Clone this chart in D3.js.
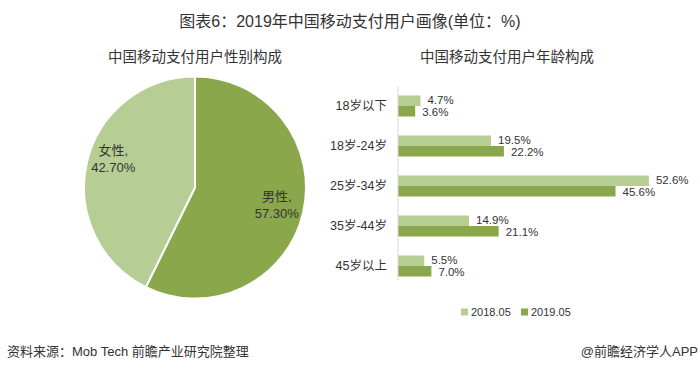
<!DOCTYPE html>
<html>
<head>
<meta charset="utf-8">
<script src="https://cdn.jsdelivr.net/npm/d3@7"></script>
<style>
  body { margin: 0; background: #fff; }
  svg { display: block; font-family: "Liberation Sans", "Noto Sans CJK SC", sans-serif; }
  text { fill: #333; }
</style>
</head>
<body>
<div id="chart"><svg width="700" height="371"></svg></div>
<script>
var WIDTH = 700;
var HEIGHT = 371;

var genderNames = ['男性', '女性'];
var genderValues = [57.30, 42.70];

var ageGroups = ['18岁以下', '18岁-24岁', '25岁-34岁', '35岁-44岁', '45岁以上'];
var seriesNames = ['2018.05', '2019.05'];
var values2018 = [4.7, 19.5, 52.6, 14.9, 5.5];
var values2019 = [3.6, 22.2, 45.6, 21.1, 7.0];

var LIGHT = '#b6ce94';
var DARK = '#8aa74c';

var svg = d3.select('#chart').select('svg');

svg.append('text')
	.attr('x', WIDTH / 2)
	.attr('y', 27)
	.attr('text-anchor', 'middle')
	.attr('font-size', 16)
	.text('图表6：2019年中国移动支付用户画像(单位：%)');

svg.append('text')
	.attr('x', 195)
	.attr('y', 62)
	.attr('text-anchor', 'middle')
	.attr('font-size', 14.5)
	.text('中国移动支付用户性别构成');

svg.append('text')
	.attr('x', 507)
	.attr('y', 62)
	.attr('text-anchor', 'middle')
	.attr('font-size', 14.5)
	.text('中国移动支付用户年龄构成');

// pie
var radius = 111;
var pie = d3.pie().sort(null).value(function(d) { return d; });
var arc = d3.arc().innerRadius(0).outerRadius(radius);
var labelArc = d3.arc().innerRadius(84).outerRadius(84);
var pieColors = [DARK, LIGHT];
var labelShift = [-6, -13];

var pg = svg.append('g')
	.attr('transform', 'translate(195,187.5)');

var slices = pie(genderValues);

pg.selectAll('path')
	.data(slices)
	.enter().append('path')
	.attr('d', arc)
	.attr('fill', function(d, i) { return pieColors[i]; })
	.attr('stroke', '#fff')
	.attr('stroke-width', 2);

slices.forEach(function(d, i) {
	var c = labelArc.centroid(d);
	var t = pg.append('text')
		.attr('text-anchor', 'middle')
		.attr('font-size', 13)
		.attr('transform', 'translate(' + c[0] + ',' + (c[1] + labelShift[i]) + ')');
	t.append('tspan').attr('x', 0).attr('dy', 0).text(genderNames[i] + ',');
	t.append('tspan').attr('x', 0).attr('dy', 17).text(genderValues[i].toFixed(2) + '%');
});

// bars
var x = d3.scaleLinear().domain([0, 55]).range([398, 398 + 55 * 4.77]);
var y = d3.scaleBand().domain(ageGroups).range([86, 286])
	.paddingInner(0.475).paddingOuter(0.2375);
var ys = d3.scaleBand().domain(seriesNames).range([0, y.bandwidth()]);

var series = [values2018, values2019];
var barColors = [LIGHT, DARK];
var labelNudge = [-0.5, 1];

var bg = svg.append('g');

series.forEach(function(vals, si) {
	bg.selectAll('rect.s' + si)
		.data(vals)
		.enter().append('rect')
		.attr('class', 's' + si)
		.attr('x', x(0))
		.attr('y', function(d, i) { return y(ageGroups[i]) + ys(seriesNames[si]); })
		.attr('width', function(d) { return x(d) - x(0); })
		.attr('height', ys.bandwidth())
		.attr('fill', barColors[si]);

	bg.selectAll('text.s' + si)
		.data(vals)
		.enter().append('text')
		.attr('class', 's' + si)
		.attr('x', function(d) { return x(d) + 7; })
		.attr('y', function(d, i) { return y(ageGroups[i]) + ys(seriesNames[si]) + ys.bandwidth() / 2 + labelNudge[si]; })
		.attr('dy', '0.35em')
		.attr('font-size', 11.5)
		.text(function(d) { return d.toFixed(1) + '%'; });
});

var yAxis = d3.axisLeft(y).tickSize(0).tickPadding(11);
var ax = svg.append('g')
	.attr('transform', 'translate(' + x(0) + ',0)')
	.call(yAxis);
ax.select('.domain').attr('stroke', '#d9d9d9').attr('d', 'M0,86V280');
ax.selectAll('text')
	.attr('font-size', 12.5)
	.style('fill', '#333')
	.style('font-family', '"Liberation Sans", "Noto Sans CJK SC", sans-serif');

// legend
var legendX = [461, 521];
seriesNames.forEach(function(name, i) {
	svg.append('rect')
		.attr('x', legendX[i])
		.attr('y', 308.5)
		.attr('width', 7)
		.attr('height', 7)
		.attr('fill', barColors[i]);
	svg.append('text')
		.attr('x', legendX[i] + 10)
		.attr('y', 312)
		.attr('dy', '0.35em')
		.attr('font-size', 11)
		.text(name);
});

// footer
svg.append('text')
	.attr('x', 7)
	.attr('y', 356)
	.attr('font-size', 13)
	.text('资料来源：Mob Tech 前瞻产业研究院整理');

svg.append('text')
	.attr('x', 698)
	.attr('y', 356)
	.attr('text-anchor', 'end')
	.attr('font-size', 13)
	.text('@前瞻经济学人APP');
</script>
</body>
</html>
